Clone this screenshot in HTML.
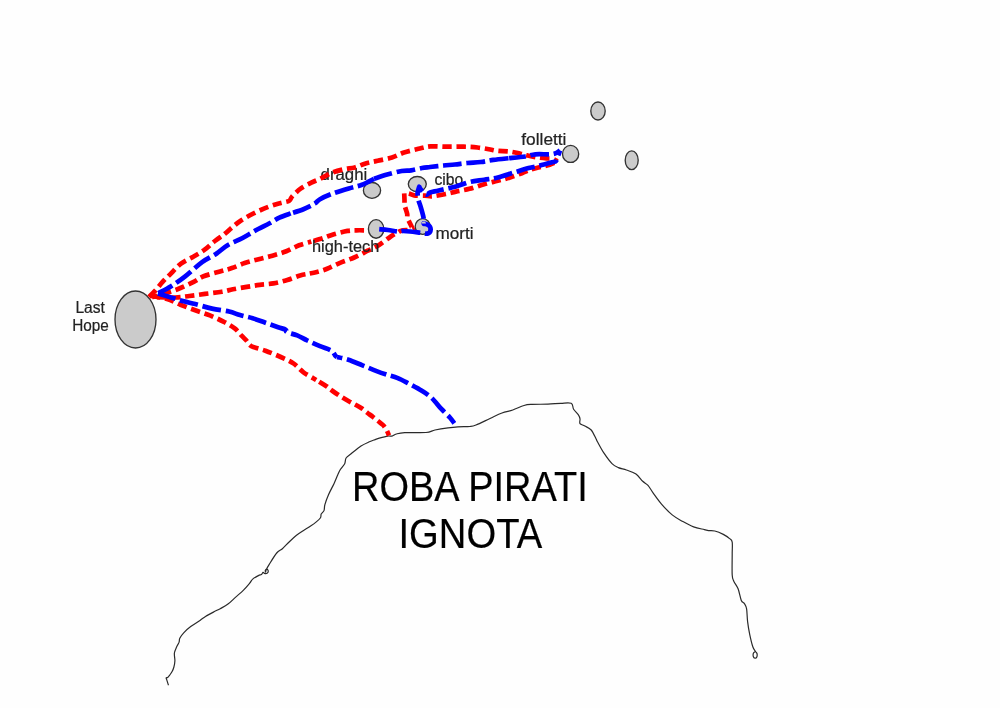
<!DOCTYPE html>
<html><head><meta charset="utf-8"><style>
html,body{margin:0;padding:0;background:#fefefe;}
svg{display:block;will-change:transform;}
text{font-family:"Liberation Sans",sans-serif;}
.c{fill:none;stroke:#2a2a2a;stroke-width:1.2;stroke-linejoin:round;}
.e{fill:#cbcbcb;stroke:#333;stroke-width:1.35;}
.r{fill:none;stroke:#f00;stroke-width:4.7;stroke-dasharray:9.4 4.7;stroke-linejoin:round;}
.b{fill:none;stroke:#00f;stroke-width:4.7;stroke-dasharray:18.8 4.7;stroke-linejoin:round;}
</style></head><body>
<svg width="1000" height="708" viewBox="0 0 1000 708">
<path class="c" d="M168.50,685.30 C168.18,684.32 166.98,680.65 166.60,679.40 C166.22,678.15 166.02,678.12 166.20,677.80 C166.38,677.48 167.10,677.97 167.70,677.50 C168.30,677.03 169.07,675.98 169.80,675.00 C170.53,674.02 171.42,672.93 172.10,671.60 C172.78,670.27 173.43,668.82 173.90,667.00 C174.37,665.18 174.82,663.03 174.90,660.70 C174.98,658.37 174.10,655.32 174.40,653.00 C174.70,650.68 175.92,648.62 176.70,646.80 C177.48,644.98 178.58,643.53 179.10,642.10 C179.62,640.67 179.03,639.75 179.80,638.20 C180.57,636.65 181.88,634.73 183.70,632.80 C185.52,630.87 187.98,628.67 190.70,626.60 C193.42,624.53 197.53,622.08 200.00,620.40 C202.47,618.72 203.17,617.93 205.50,616.50 C207.83,615.07 211.55,613.10 214.00,611.80 C216.45,610.50 217.87,609.98 220.20,608.70 C222.53,607.42 225.42,606.03 228.00,604.10 C230.58,602.17 233.12,599.43 235.70,597.10 C238.28,594.77 241.17,592.43 243.50,590.10 C245.83,587.77 248.17,584.93 249.70,583.10 C251.23,581.27 251.25,580.35 252.70,579.10 C254.15,577.85 256.95,576.37 258.40,575.60 C259.85,574.83 260.62,575.03 261.40,574.50 C262.18,573.97 262.58,572.58 263.10,572.40 C263.62,572.22 263.93,573.22 264.50,573.40 C265.07,573.58 265.92,573.70 266.50,573.50 C267.08,573.30 267.75,572.75 268.00,572.20 C268.25,571.65 268.23,570.70 268.00,570.20 C267.77,569.70 267.05,569.15 266.60,569.20 C266.15,569.25 265.47,570.03 265.30,570.50 C265.13,570.97 265.43,572.17 265.60,572.00 C265.77,571.83 265.72,570.73 266.30,569.50 C266.88,568.27 267.37,567.35 269.10,564.60 C270.83,561.85 274.48,555.65 276.70,553.00 C278.92,550.35 280.28,550.58 282.40,548.70 C284.52,546.82 287.05,543.93 289.40,541.70 C291.75,539.47 294.13,537.18 296.50,535.30 C298.87,533.42 301.25,531.93 303.60,530.40 C305.95,528.87 308.48,527.52 310.60,526.10 C312.72,524.68 314.65,523.30 316.30,521.90 C317.95,520.50 319.68,519.00 320.50,517.70 C321.32,516.40 320.62,515.28 321.20,514.10 C321.78,512.92 323.38,512.18 324.00,510.60 C324.62,509.02 324.15,507.25 324.90,504.60 C325.65,501.95 326.97,498.23 328.50,494.70 C330.03,491.17 332.57,486.68 334.10,483.40 C335.63,480.12 336.63,477.35 337.70,475.00 C338.77,472.65 339.33,471.18 340.50,469.30 C341.67,467.42 343.77,465.58 344.70,463.70 C345.63,461.82 345.03,459.65 346.10,458.00 C347.17,456.35 348.62,455.80 351.10,453.80 C353.58,451.80 357.95,448.00 361.00,446.00 C364.05,444.00 367.03,442.87 369.40,441.80 C371.77,440.73 373.55,440.20 375.20,439.60 C376.85,439.00 377.20,438.78 379.30,438.20 C381.40,437.62 385.68,436.45 387.80,436.10 C389.92,435.75 390.58,436.45 392.00,436.10 C393.42,435.75 394.18,434.58 396.30,434.00 C398.42,433.42 399.75,432.85 404.70,432.60 C409.65,432.35 420.95,432.93 426.00,432.50 C431.05,432.07 431.33,430.78 435.00,430.00 C438.67,429.22 444.17,428.33 448.00,427.80 C451.83,427.27 454.33,427.02 458.00,426.80 C461.67,426.58 467.00,426.80 470.00,426.50 C473.00,426.20 472.67,426.33 476.00,425.00 C479.33,423.67 485.67,420.50 490.00,418.50 C494.33,416.50 498.20,414.42 502.00,413.00 C505.80,411.58 509.13,411.25 512.80,410.00 C516.47,408.75 520.80,406.43 524.00,405.50 C527.20,404.57 528.00,404.63 532.00,404.40 C536.00,404.17 543.20,404.28 548.00,404.10 C552.80,403.92 556.93,403.43 560.80,403.30 C564.67,403.17 569.07,402.32 571.20,403.30 C573.33,404.28 572.40,407.28 573.60,409.20 C574.80,411.12 577.33,413.20 578.40,414.80 C579.47,416.40 579.73,417.33 580.00,418.80 C580.27,420.27 579.20,422.40 580.00,423.60 C580.80,424.80 582.93,424.93 584.80,426.00 C586.67,427.07 589.33,427.87 591.20,430.00 C593.07,432.13 594.93,436.80 596.00,438.80 C597.07,440.80 596.27,439.60 597.60,442.00 C598.93,444.40 601.60,449.60 604.00,453.20 C606.40,456.80 609.60,461.20 612.00,463.60 C614.40,466.00 616.00,466.53 618.40,467.60 C620.80,468.67 623.47,468.93 626.40,470.00 C629.33,471.07 633.28,472.12 636.00,474.00 C638.72,475.88 640.70,479.40 642.70,481.30 C644.70,483.20 646.22,483.38 648.00,485.40 C649.78,487.42 651.15,490.28 653.40,493.40 C655.65,496.52 658.37,500.52 661.50,504.10 C664.63,507.68 668.63,511.98 672.20,514.90 C675.77,517.82 679.33,519.60 682.90,521.60 C686.47,523.60 690.02,525.57 693.60,526.90 C697.18,528.23 701.92,528.98 704.40,529.60 C706.88,530.22 706.77,530.37 708.50,530.60 C710.23,530.83 712.33,530.37 714.80,531.00 C717.27,531.63 720.83,533.13 723.30,534.40 C725.77,535.67 728.12,537.30 729.60,538.60 C731.08,539.90 731.77,539.65 732.20,542.20 C732.63,544.75 732.20,548.43 732.20,553.90 C732.20,559.37 731.92,570.42 732.20,575.00 C732.48,579.58 732.92,579.10 733.90,581.40 C734.88,583.70 736.87,585.63 738.10,588.80 C739.33,591.97 740.25,597.93 741.30,600.40 C742.35,602.87 743.52,602.18 744.40,603.60 C745.28,605.02 746.07,605.90 746.60,608.90 C747.13,611.90 747.08,617.37 747.60,621.60 C748.12,625.83 748.82,630.07 749.70,634.30 C750.58,638.53 751.93,644.13 752.90,647.00 C753.87,649.87 754.82,650.42 755.50,651.50 C756.18,652.58 756.78,652.58 757.00,653.50 C757.22,654.42 757.13,656.22 756.80,657.00 C756.47,657.78 755.58,658.28 755.00,658.20 C754.42,658.12 753.55,657.37 753.30,656.50 C753.05,655.63 753.13,653.83 753.50,653.00 C753.87,652.17 755.17,651.75 755.50,651.50"/>
<text x="75.40" y="313.40" font-size="15.8" fill="#222" stroke="#222" stroke-width="0.20" textLength="29.47" lengthAdjust="spacingAndGlyphs">Last</text>
<text x="72.20" y="331.40" font-size="15.8" fill="#222" stroke="#222" stroke-width="0.20" textLength="36.62" lengthAdjust="spacingAndGlyphs">Hope</text>
<text x="521.30" y="145.40" font-size="15.8" fill="#222" stroke="#222" stroke-width="0.20" textLength="45.14" lengthAdjust="spacingAndGlyphs">folletti</text>
<text x="320.60" y="180.00" font-size="15.8" fill="#222" stroke="#222" stroke-width="0.20" textLength="46.68" lengthAdjust="spacingAndGlyphs">draghi</text>
<text x="434.50" y="184.60" font-size="15.8" fill="#222" stroke="#222" stroke-width="0.20" textLength="28.81" lengthAdjust="spacingAndGlyphs">cibo</text>
<text x="435.40" y="239.20" font-size="15.8" fill="#222" stroke="#222" stroke-width="0.20" textLength="38.07" lengthAdjust="spacingAndGlyphs">morti</text>
<text x="352.10" y="500.50" font-size="41.8" fill="#000" stroke="#000" stroke-width="0.20" textLength="235.60" lengthAdjust="spacingAndGlyphs">ROBA PIRATI</text>
<text x="398.50" y="548.40" font-size="41.8" fill="#000" stroke="#000" stroke-width="0.20" textLength="143.67" lengthAdjust="spacingAndGlyphs">IGNOTA</text>
<ellipse cx="135.5" cy="319.5" rx="20.5" ry="28.5" class="e"/>
<ellipse cx="598.0" cy="111.0" rx="7.2" ry="9.0" class="e"/>
<ellipse cx="570.6" cy="153.9" rx="8.1" ry="8.5" class="e"/>
<ellipse cx="631.7" cy="160.2" rx="6.5" ry="9.4" class="e"/>
<ellipse cx="372.0" cy="190.4" rx="8.6" ry="7.9" class="e"/>
<ellipse cx="417.3" cy="184.1" rx="9.0" ry="7.6" class="e"/>
<ellipse cx="376.1" cy="228.9" rx="7.7" ry="9.3" class="e"/>
<ellipse cx="422.7" cy="226.5" rx="7.5" ry="7.9" class="e"/>
<path id="R4a" class="r" stroke-dashoffset="13.03" d="M150.00,295.60 C152.83,296.17 161.92,297.48 167.00,299.00 C172.08,300.52 175.80,302.82 180.50,304.70 C185.20,306.58 190.30,308.52 195.20,310.30 C200.10,312.08 205.20,313.52 209.90,315.40 C214.60,317.28 219.27,319.43 223.40,321.60 C227.53,323.77 231.72,326.10 234.70,328.40 C237.68,330.70 239.35,333.38 241.30,335.40 C243.25,337.42 244.72,338.70 246.40,340.50 C248.08,342.30 248.23,344.50 251.40,346.20 C254.57,347.90 260.52,348.90 265.40,350.70 C270.28,352.50 276.03,354.88 280.70,357.00 C285.37,359.12 289.60,360.85 293.40,363.40 C297.20,365.95 299.70,369.55 303.50,372.30 C307.30,375.05 314.08,378.63 316.20,379.90"/>
<path id="R4b" class="r" stroke-dashoffset="10.53" d="M316.20,379.90 C317.90,380.95 323.87,384.50 326.40,386.20 C328.93,387.90 329.38,388.62 331.40,390.10 C333.42,391.58 335.67,393.28 338.50,395.10 C341.33,396.92 345.48,399.35 348.40,401.00 C351.32,402.65 353.73,403.75 356.00,405.00 C358.27,406.25 360.17,407.25 362.00,408.50 C363.83,409.75 365.17,411.08 367.00,412.50 C368.83,413.92 371.17,415.58 373.00,417.00 C374.83,418.42 376.33,419.67 378.00,421.00 C379.67,422.33 381.58,423.50 383.00,425.00 C384.42,426.50 385.50,428.25 386.50,430.00 C387.50,431.75 388.58,434.58 389.00,435.50"/>
<path id="R3" class="r" stroke-dashoffset="3.70" d="M152.00,297.00 C153.53,296.60 156.85,295.93 161.20,294.60 C165.55,293.27 172.68,291.12 178.10,289.00 C183.52,286.88 189.45,284.02 193.70,281.90 C197.95,279.78 199.22,278.03 203.60,276.30 C207.98,274.57 215.28,272.87 220.00,271.50 C224.72,270.13 227.78,269.50 231.90,268.10 C236.02,266.70 240.25,264.58 244.70,263.10 C249.15,261.62 253.98,260.43 258.60,259.20 C263.22,257.97 267.78,257.02 272.40,255.70 C277.02,254.38 281.85,253.03 286.30,251.30 C290.75,249.57 294.93,246.92 299.10,245.30 C303.27,243.68 309.27,242.22 311.30,241.60"/>
<path id="R3b" class="r" stroke-dashoffset="11.61" d="M311.30,241.60 C313.18,241.03 318.83,239.42 322.60,238.20 C326.37,236.98 329.75,235.52 333.90,234.30 C338.05,233.08 343.73,231.57 347.50,230.90 C351.27,230.23 353.68,230.40 356.50,230.30 C359.32,230.20 363.08,230.30 364.40,230.30"/>
<path id="RTa" class="r" stroke-dashoffset="13.03" d="M148.50,297.50 C149.67,296.32 153.15,293.00 155.50,290.40 C157.85,287.80 160.00,284.73 162.60,281.90 C165.20,279.07 168.03,276.45 171.10,273.40 C174.17,270.35 177.23,266.42 181.00,263.60 C184.77,260.78 189.70,258.87 193.70,256.50 C197.70,254.13 201.47,251.98 205.00,249.40 C208.53,246.82 211.62,243.58 214.90,241.00 C218.18,238.42 221.85,236.15 224.70,233.90 C227.55,231.65 229.28,229.73 232.00,227.50 C234.72,225.27 237.10,223.00 241.00,220.50 C244.90,218.00 250.65,214.85 255.40,212.50 C260.15,210.15 265.27,208.00 269.50,206.40 C273.73,204.80 277.50,203.85 280.80,202.90 C284.10,201.95 287.42,201.77 289.30,200.70 C291.18,199.63 290.22,198.50 292.10,196.50 C293.98,194.50 297.30,191.05 300.60,188.70 C303.90,186.35 308.67,184.05 311.90,182.40 C315.13,180.75 316.65,180.40 320.00,178.80 C323.35,177.20 328.00,174.40 332.00,172.80 C336.00,171.20 340.20,170.10 344.00,169.20 C347.80,168.30 351.20,168.35 354.80,167.40 C358.40,166.45 361.80,164.60 365.60,163.50 C369.40,162.40 373.20,161.80 377.60,160.80 C382.00,159.80 387.60,158.87 392.00,157.50 C396.40,156.13 399.60,154.05 404.00,152.60 C408.40,151.15 414.00,149.83 418.40,148.80 C422.80,147.77 425.63,146.75 430.40,146.40 C435.17,146.05 441.42,146.65 447.00,146.70 C452.58,146.75 458.82,146.57 463.90,146.70 C468.98,146.83 473.35,147.08 477.50,147.50 C481.65,147.92 485.42,148.63 488.80,149.20 C492.18,149.77 494.42,150.52 497.80,150.90 C501.18,151.28 505.33,151.03 509.10,151.50 C512.87,151.97 517.42,153.05 520.40,153.70 C523.38,154.35 524.50,154.83 527.00,155.40 C529.50,155.97 532.17,156.60 535.40,157.10 C538.63,157.60 543.57,158.12 546.40,158.40 C549.23,158.68 550.55,158.30 552.40,158.80 C554.25,159.30 556.65,160.97 557.50,161.40"/>
<path id="RTb1" class="r" stroke-dashoffset="10.45" d="M557.50,161.40 C556.22,161.95 552.77,163.72 549.80,164.70 C546.83,165.68 542.80,166.52 539.70,167.30 C536.60,168.08 534.17,168.42 531.20,169.40 C528.23,170.38 525.43,171.85 521.90,173.20 C518.37,174.55 514.02,176.23 510.00,177.50 C505.98,178.77 502.10,179.68 497.80,180.80 C493.50,181.92 488.92,182.87 484.20,184.20 C479.48,185.53 474.20,187.57 469.50,188.80 C464.80,190.03 460.00,190.73 456.00,191.60 C452.00,192.47 449.40,193.22 445.50,194.00 C441.60,194.78 436.02,196.02 432.60,196.30 C429.18,196.58 428.10,195.87 425.00,195.70 C421.90,195.53 416.68,195.65 414.00,195.30 C411.32,194.95 410.53,194.03 408.90,193.60 C407.27,193.17 404.98,192.85 404.20,192.70"/>
<path id="RTb2" class="r" stroke-dashoffset="12.45" d="M404.20,192.70 C404.20,192.70 404.15,191.43 404.20,192.70 C404.25,193.97 404.42,198.18 404.50,200.30 C404.58,202.42 404.25,203.13 404.70,205.40 C405.15,207.67 406.73,211.78 407.20,213.90 C407.67,216.02 406.70,215.83 407.50,218.10 C408.30,220.37 411.35,225.60 412.00,227.50 C412.65,229.40 413.18,228.95 411.40,229.50 C409.62,230.05 403.55,230.30 401.30,230.80 C399.05,231.30 399.65,231.55 397.90,232.50 C396.15,233.45 393.93,234.42 390.80,236.50 C387.67,238.58 382.93,242.63 379.10,245.00 C375.27,247.37 371.95,248.62 367.80,250.70 C363.65,252.78 358.92,255.43 354.20,257.50 C349.48,259.57 344.02,261.22 339.50,263.10 C334.98,264.98 330.87,267.30 327.10,268.80 C323.33,270.30 319.75,271.32 316.90,272.10 C314.05,272.88 312.80,272.93 310.00,273.50 C307.20,274.07 303.88,274.42 300.10,275.50 C296.32,276.58 291.75,278.68 287.30,280.00 C282.85,281.32 278.02,282.58 273.40,283.40 C268.78,284.22 264.05,284.32 259.60,284.90 C255.15,285.48 251.15,286.17 246.70,286.90 C242.25,287.63 237.03,288.48 232.90,289.30 C228.77,290.12 226.55,291.03 221.90,291.80 C217.25,292.57 210.42,293.20 205.00,293.90 C199.58,294.60 194.35,295.40 189.40,296.00 C184.45,296.60 181.53,297.33 175.30,297.50 C169.07,297.67 155.88,297.08 152.00,297.00"/>
<path id="B3a" class="b" stroke-dashoffset="0.53" d="M157.90,293.40 C160.35,294.15 168.27,296.58 172.60,297.90 C176.93,299.22 180.13,300.27 183.90,301.30 C187.67,302.33 190.50,302.88 195.20,304.10 C199.90,305.32 206.45,307.37 212.10,308.60 C217.75,309.83 224.45,310.42 229.10,311.50 C233.75,312.58 236.07,313.97 240.00,315.10 C243.93,316.23 248.47,317.03 252.70,318.30 C256.93,319.57 261.17,321.22 265.40,322.70 C269.63,324.18 274.72,326.03 278.10,327.20 C281.48,328.37 284.22,328.87 285.70,329.70 C287.18,330.53 285.08,331.25 287.00,332.20 C288.92,333.15 293.82,334.02 297.20,335.40 C300.58,336.78 303.50,338.70 307.30,340.50 C311.10,342.30 315.97,344.50 320.00,346.20 C324.03,347.90 328.95,349.12 331.50,350.70 C334.05,352.28 334.37,354.65 335.30,355.70 C336.23,356.75 336.80,356.78 337.10,357.00"/>
<path id="B3b" class="b" stroke-dashoffset="13.45" d="M337.10,357.00 C338.98,357.47 344.17,358.40 348.40,359.80 C352.63,361.20 357.80,363.52 362.50,365.40 C367.20,367.28 372.60,369.57 376.60,371.10 C380.60,372.63 382.97,373.43 386.50,374.60 C390.03,375.77 394.03,376.57 397.80,378.10 C401.57,379.63 405.10,381.68 409.10,383.80 C413.10,385.92 418.03,388.45 421.80,390.80 C425.57,393.15 428.40,394.83 431.70,397.90 C435.00,400.97 438.53,405.90 441.60,409.20 C444.67,412.50 447.98,415.35 450.10,417.70 C452.22,420.05 453.60,422.37 454.30,423.30"/>
<path id="B12a1" class="b" stroke-dashoffset="2.86" d="M158.40,293.20 C160.52,292.03 166.63,289.02 171.10,286.20 C175.57,283.38 180.03,280.32 185.20,276.30 C190.37,272.28 196.92,265.87 202.10,262.10 C207.28,258.33 212.05,256.52 216.30,253.70 C220.55,250.88 223.68,247.58 227.60,245.20 C231.52,242.82 236.28,241.18 239.80,239.40 C243.32,237.62 245.63,236.23 248.70,234.50 C251.77,232.77 254.73,230.87 258.20,229.00 C261.67,227.13 265.97,225.18 269.50,223.30 C273.03,221.42 275.87,219.35 279.40,217.70 C282.93,216.05 288.82,214.12 290.70,213.40"/>
<path id="B12a2" class="b" stroke-dashoffset="21.05" d="M290.70,213.40 C292.82,212.70 299.40,210.83 303.40,209.20 C307.40,207.57 311.93,205.27 314.70,203.60 C317.47,201.93 317.12,200.83 320.00,199.20 C322.88,197.57 327.20,195.60 332.00,193.80 C336.80,192.00 343.80,189.90 348.80,188.40 C353.80,186.90 357.80,186.40 362.00,184.80 C366.20,183.20 372.00,179.80 374.00,178.80"/>
<path id="B12a3" class="b" stroke-dashoffset="23.49" d="M374.00,178.80 C376.20,178.10 382.60,175.90 387.20,174.60 C391.80,173.30 397.60,171.72 401.60,171.00 C405.60,170.28 407.80,170.80 411.20,170.30 C414.60,169.80 418.87,168.55 422.00,168.00 C425.13,167.45 426.40,167.42 430.00,167.00 C433.60,166.58 439.45,165.92 443.60,165.50 C447.75,165.08 450.95,164.92 454.90,164.50 C458.85,164.08 462.98,163.42 467.30,163.00 C471.62,162.58 476.47,162.52 480.80,162.00 C485.13,161.48 488.58,160.53 493.30,159.90 C498.02,159.27 506.47,158.48 509.10,158.20"/>
<path id="B12b" class="b" stroke-dashoffset="2.05" d="M509.10,158.20 C511.80,157.92 520.92,157.15 525.30,156.50 C529.68,155.85 531.45,154.67 535.40,154.30 C539.35,153.93 545.73,154.43 549.00,154.30 C552.27,154.17 553.17,154.13 555.00,153.50 C556.83,152.87 559.17,151.00 560.00,150.50"/>
<path id="B12c" class="b" stroke-dashoffset="13.67" d="M560.00,150.50 C559.67,151.42 558.67,154.25 558.00,156.00 C557.33,157.75 557.17,159.92 556.00,161.00 C554.83,162.08 553.72,161.73 551.00,162.50 C548.28,163.27 543.43,164.67 539.70,165.60 C535.97,166.53 532.85,166.97 528.60,168.10 C524.35,169.23 519.33,170.83 514.20,172.40 C509.07,173.97 502.80,176.28 497.80,177.50 C492.80,178.72 488.92,178.95 484.20,179.70 C479.48,180.45 474.20,180.87 469.50,182.00 C464.80,183.13 461.13,185.08 456.00,186.50 C450.87,187.92 443.03,189.50 438.70,190.50 C434.37,191.50 432.15,191.83 430.00,192.50 C427.85,193.17 427.62,195.38 425.80,194.50 C423.98,193.62 420.22,188.42 419.10,187.20"/>
<path id="B12d" class="b" stroke-dashoffset="9.07" d="M419.10,187.20 C419.10,187.20 419.35,186.23 419.10,187.20 C418.85,188.17 417.70,190.87 417.60,193.00 C417.50,195.13 417.93,197.50 418.50,200.00 C419.07,202.50 420.17,205.08 421.00,208.00 C421.83,210.92 423.00,214.92 423.50,217.50 C424.00,220.08 423.92,222.50 424.00,223.50 C424.08,224.50 423.13,223.12 424.00,223.50 C424.87,223.88 428.12,224.58 429.20,225.80 C430.28,227.02 430.78,229.50 430.50,230.80 C430.22,232.10 429.12,233.27 427.50,233.60 C425.88,233.93 423.72,233.15 420.80,232.80 C417.88,232.45 412.97,231.80 410.00,231.50 C407.03,231.20 405.02,231.00 403.00,231.00 C400.98,231.00 400.40,231.67 397.90,231.50 C395.40,231.33 391.12,230.38 388.00,230.00 C384.88,229.62 380.67,229.33 379.20,229.20"/>
<text x="312.00" y="251.70" font-size="15.8" fill="#222" stroke="#222" stroke-width="0.20" textLength="67.35" lengthAdjust="spacingAndGlyphs">high-tech</text>
</svg>
</body></html>
